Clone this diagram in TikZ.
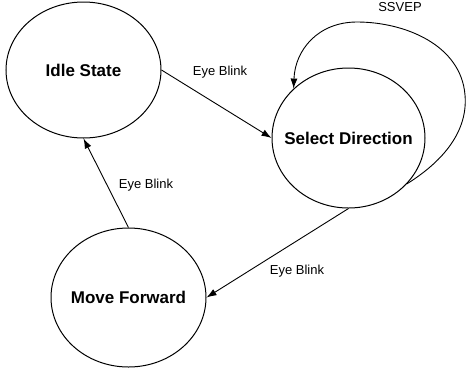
\documentclass[tikz,border=0pt]{standalone}
\usepackage{fontspec}
\setmainfont{Liberation Sans}
\usetikzlibrary{shapes.geometric,arrows.meta}
\begin{document}
\begin{tikzpicture}[x=1pt,y=-1pt,
  state/.style={ellipse,draw,line width=1pt,inner sep=0pt,font=\fontsize{17}{20}\selectfont\bfseries},
  lbl/.style={font=\fontsize{13}{15}\selectfont,inner sep=0pt},
  trans/.style={line width=0.9pt,-{Latex[length=10pt,width=7pt]}}]
  \useasboundingbox (0,0) rectangle (466,373);
  % states (text boxed at zero width so the ellipse keeps its given size)
  \node[state,minimum width=155pt,minimum height=136pt] (idle) at (83.5,70) {\makebox[0pt]{Idle State}};
  \node[state,minimum width=153pt,minimum height=140pt] (sel) at (348.5,138) {\makebox[0pt]{Select Direction}};
  \node[state,minimum width=155pt,minimum height=139pt] (move) at (128.5,297.5) {\makebox[0pt]{Move Forward}};
  % transitions
  \draw[trans] (idle.east) -- (sel.west);
  \draw[trans] (sel.south) -- (move.east);
  \draw[trans] (move.north) -- (idle.south);
  \draw[trans] (sel.-38) .. controls (445,160) and (468,130) .. (465,95)
    .. controls (461,45) and (405,22) .. (357,22)
    .. controls (318,22) and (295,50) .. (sel.138);
  % transition labels
  \node[lbl] (l1) at (220,72) {Eye Blink};
  \node[lbl] (l2) at (400,7) {SSVEP};
  \node[lbl] (l3) at (146,185) {Eye Blink};
  \node[lbl] (l4) at (297,271) {Eye Blink};
\end{tikzpicture}
\end{document}
